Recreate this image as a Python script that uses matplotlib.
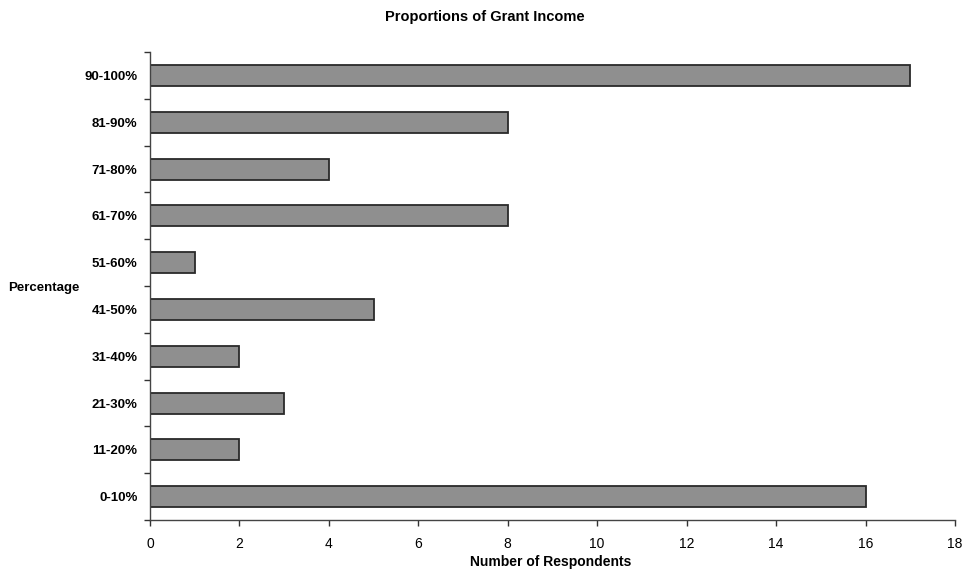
import numpy as np
import matplotlib.pyplot as plt
from matplotlib.ticker import FixedLocator, NullFormatter

categories = ["0-10%", "11-20%", "21-30%", "31-40%", "41-50%",
              "51-60%", "61-70%", "71-80%", "81-90%", "90-100%"]
respondents = [16, 2, 3, 2, 5, 1, 8, 4, 8, 17]
x_ticks = [0, 2, 4, 6, 8, 10, 12, 14, 16, 18]

plt.rcParams["font.family"] = ["Liberation Sans", "DejaVu Sans"]

fig = plt.figure(figsize=(9.64, 5.72), dpi=100)
ax = fig.add_axes([0.1556, 0.0909, 0.835, 0.818])

y = np.arange(len(categories))
ax.barh(y, respondents, height=0.45, color="#8f8f8f", edgecolor="#2a2a2a", linewidth=1.3)

ax.set_xlim(0, 18)
ax.set_ylim(-0.5, len(categories) - 0.5)
ax.set_xticks(x_ticks)
ax.set_xticklabels([str(t) for t in x_ticks], family=["Liberation Sans Narrow", "Liberation Sans"],
                   fontsize=10)
ax.set_yticks(y)
ax.set_yticklabels(categories, fontsize=9.5, fontweight="bold")
ax.tick_params(axis="y", which="major", length=0, pad=9)
ax.yaxis.set_minor_locator(FixedLocator(np.arange(-0.5, len(categories), 1)))
ax.yaxis.set_minor_formatter(NullFormatter())
ax.tick_params(axis="y", which="minor", length=4, width=1, color="#333333")
ax.tick_params(axis="x", length=4, width=1, color="#333333", pad=8)

for s in ["top", "right"]:
    ax.spines[s].set_visible(False)
for s in ["left", "bottom"]:
    ax.spines[s].set_color("#444444")
    ax.spines[s].set_linewidth(1)

fig.text(0.503, 1 - 17 / 572, "Proportions of Grant Income", fontsize=10.5,
         fontweight="bold", ha="center", va="center")
fig.text(551 / 964, 1 - 562 / 572, "Number of Respondents", fontsize=10, fontweight="bold",
         family=["Liberation Sans Narrow", "Liberation Sans"], ha="center", va="center")
fig.text(8 / 964, 1 - 288 / 572, "Percentage", fontsize=9.5, fontweight="bold",
         ha="left", va="center")

fig.savefig("out.png", dpi=100, facecolor="white")
